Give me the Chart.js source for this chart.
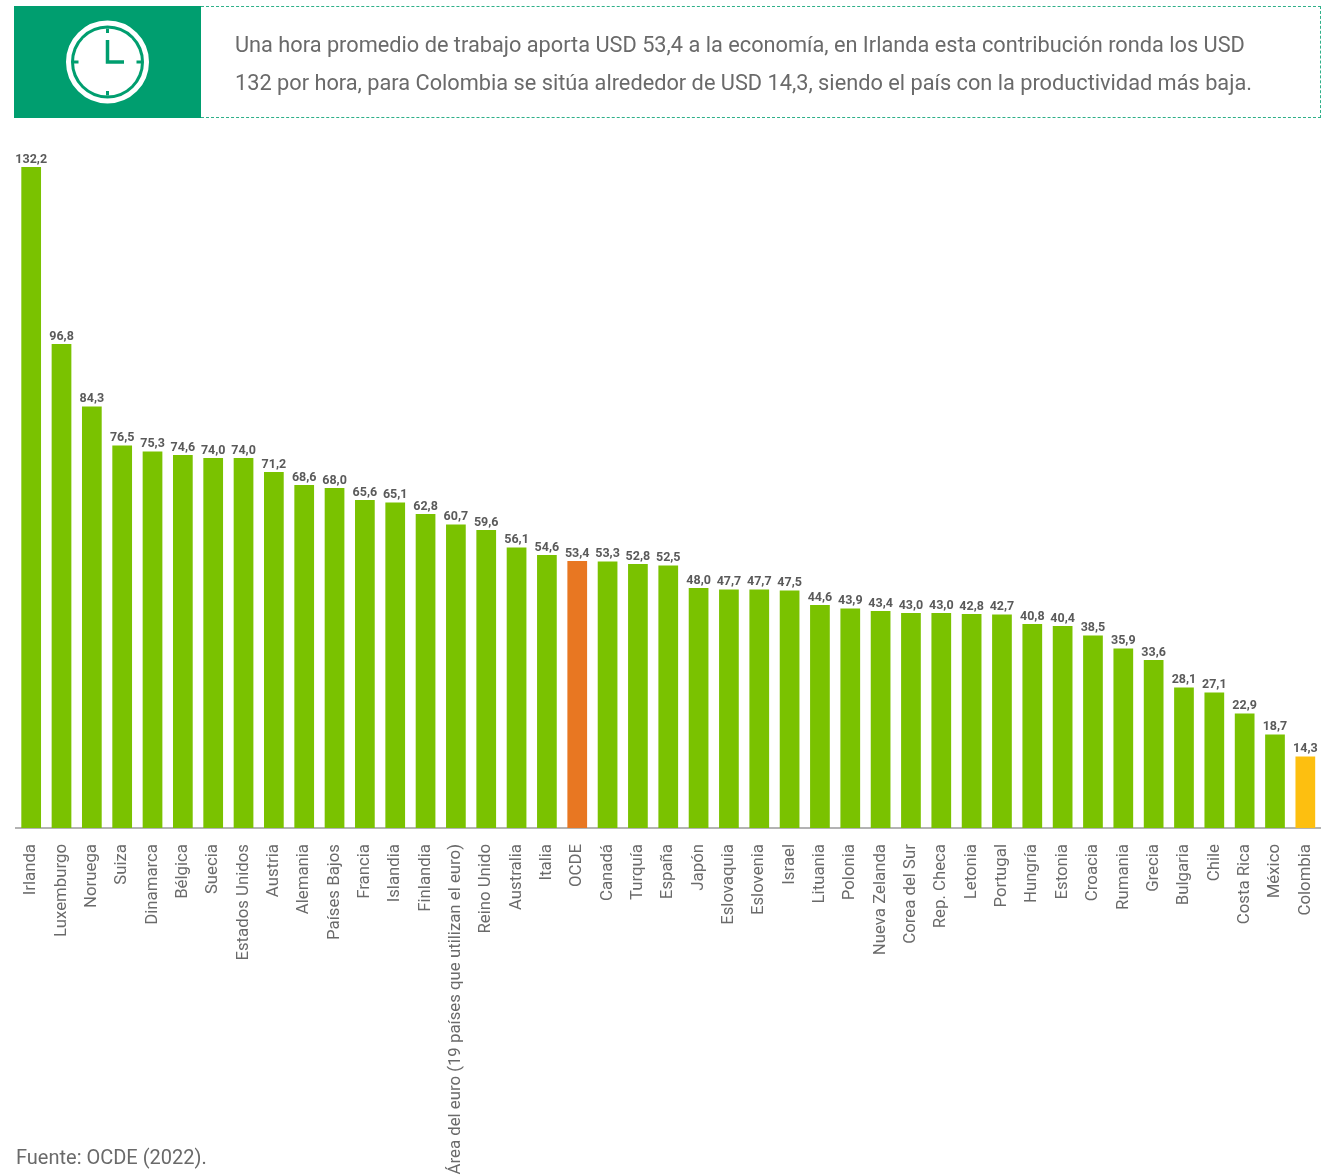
<!DOCTYPE html>
<html lang="es">
<head>
<meta charset="utf-8">
<title>Productividad por hora</title>
<script src="https://cdn.jsdelivr.net/npm/chart.js@4/dist/chart.umd.min.js"></script>
<style>
  html, body { margin: 0; padding: 0; background: #fff; }
  body { position: relative; width: 1322px; height: 1175px; overflow: hidden; font-family: Roboto, sans-serif; color: #6a6a6a; }
  #icon { position: absolute; left: 14px; top: 6px; width: 187px; height: 112px; background: #009e6f; }
  #note { position: absolute; left: 201px; top: 6px; width: 1119px; height: 110px; border-top: 1.5px dashed #2fb089; border-right: 1.5px dashed #2fb089; border-bottom: 1.5px dashed #2fb089; }
  #note p { position: absolute; left: 34px; top: 19px; margin: 0; font-size: 21.75px; line-height: 38px; white-space: nowrap; }
  #source { position: absolute; left: 16px; top: 1145px; font-size: 20px; }
  #chart { position: absolute; left: 0; top: 0; }
</style>
</head>
<body>
<canvas id="chart" width="1322" height="1175"></canvas>
<div id="icon">
  <svg width="187" height="112" viewBox="0 0 187 112">
    <circle cx="93.5" cy="56" r="39" fill="none" stroke="#fff" stroke-width="5"></circle>
    <circle cx="93.5" cy="56" r="33.5" fill="#fff"></circle>
    <path d="M93.5 34V56H110" fill="none" stroke="#009e6f" stroke-width="3.5"></path>
    <path d="M93.5 22.5V27M93.5 85V89.5M60 56H64.5M122.5 56H127" fill="none" stroke="#009e6f" stroke-width="3"></path>
  </svg>
</div>
<div id="note"><p>Una hora promedio de trabajo aporta USD 53,4 a la economía, en Irlanda esta contribución ronda los USD<br>132 por hora, para Colombia se sitúa alrededor de USD 14,3, siendo el país con la productividad más baja.</p></div>
<div id="source">Fuente: OCDE (2022).</div>
<script>
const categories = ['Irlanda', 'Luxemburgo', 'Noruega', 'Suiza', 'Dinamarca', 'Bélgica', 'Suecia', 'Estados Unidos', 'Austria', 'Alemania', 'Países Bajos', 'Francia', 'Islandia', 'Finlandia', 'Área del euro (19 países que utilizan el euro)', 'Reino Unido', 'Australia', 'Italia', 'OCDE', 'Canadá', 'Turquía', 'España', 'Japón', 'Eslovaquia', 'Eslovenia', 'Israel', 'Lituania', 'Polonia', 'Nueva Zelanda', 'Corea del Sur', 'Rep. Checa', 'Letonia', 'Portugal', 'Hungría', 'Estonia', 'Croacia', 'Rumania', 'Grecia', 'Bulgaria', 'Chile', 'Costa Rica', 'México', 'Colombia'];
const values = [132.2, 96.8, 84.3, 76.5, 75.3, 74.6, 74.0, 74.0, 71.2, 68.6, 68.0, 65.6, 65.1, 62.8, 60.7, 59.6, 56.1, 54.6, 53.4, 53.3, 52.8, 52.5, 48.0, 47.7, 47.7, 47.5, 44.6, 43.9, 43.4, 43.0, 43.0, 42.8, 42.7, 40.8, 40.4, 38.5, 35.9, 33.6, 28.1, 27.1, 22.9, 18.7, 14.3];

// Bars that stand out from the green ones
function barColor(name) {
    if (name === 'OCDE') return '#e87722';
    if (name === 'Colombia') return '#fdbf10';
    return '#7ac200';
}

// Value labels above the bars, comma as decimal mark
const valueLabels = {
    id: 'valueLabels',
    afterDatasetsDraw(chart) {
        const ctx = chart.ctx;
        ctx.save();
        ctx.font = 'bold 12.5px Roboto, sans-serif';
        ctx.fillStyle = '#5a5a5a';
        ctx.textAlign = 'center';
        ctx.textBaseline = 'bottom';
        chart.getDatasetMeta(0).data.forEach((bar, i) => {
            ctx.fillText(values[i].toFixed(1).replace('.', ','), bar.x, bar.y - 1);
        });
        ctx.restore();
    }
};

new Chart(document.getElementById('chart').getContext('2d'), {
    type: 'bar',
    data: {
        labels: categories,
        datasets: [{
            data: values,
            backgroundColor: categories.map(barColor),
            barPercentage: 0.65,
            categoryPercentage: 1
        }]
    },
    options: {
        responsive: false,
        animation: false,
        layout: { padding: { left: 16, right: 1.5, top: 128, bottom: 0 } },
        scales: {
            x: {
                afterFit(scale) {
                    scale.height = 347;
                    // the rotated labels would otherwise pull the plot in from the sides
                    scale.paddingLeft = 0;
                    scale.paddingRight = 0;
                },
                border: { color: '#b3b3b3', width: 2 },
                grid: { display: false, drawTicks: false },
                ticks: {
                    autoSkip: false,
                    minRotation: 90,
                    maxRotation: 90,
                    padding: 16,
                    color: '#6a6a6a',
                    font: { family: 'Roboto, sans-serif', size: 16.8 }
                }
            },
            y: {
                display: false,
                min: 0,
                max: 140
            }
        },
        plugins: {
            legend: { display: false },
            tooltip: { enabled: false }
        }
    },
    plugins: [valueLabels]
});
</script>
</body>
</html>
